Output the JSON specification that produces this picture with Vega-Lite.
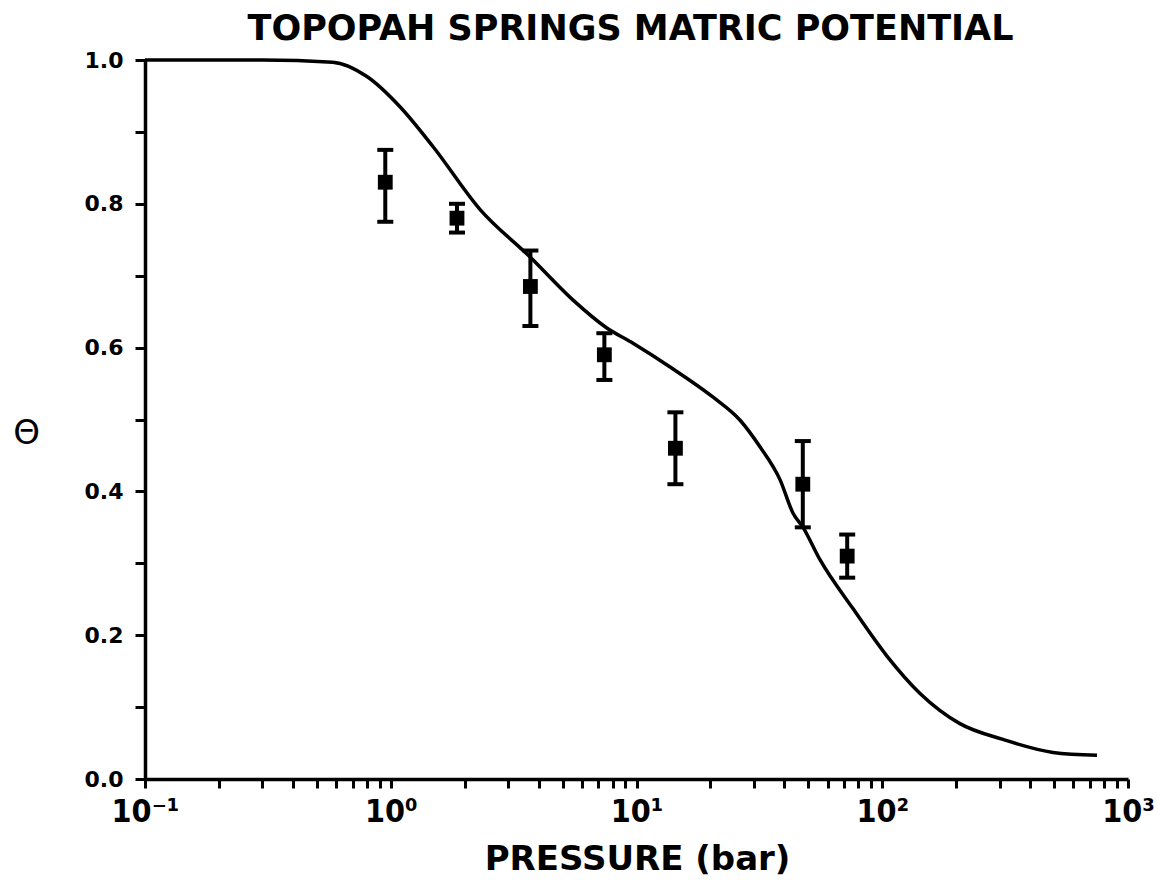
{
  "$schema": "https://vega.github.io/schema/vega-lite/v6.json",
  "width": 983,
  "height": 719,
  "autosize": "none",
  "padding": {"left": 145, "top": 60, "right": 29, "bottom": 103},
  "background": "white",
  "config": {"view": {"stroke": null}},
  "title": {"text": "TOPOPAH SPRINGS MATRIC POTENTIAL", "font": "DejaVu Sans", "fontWeight": "bold", "fontSize": 35, "color": "black", "anchor": "middle", "offset": 2, "dx": -6},
  "datasets": {
    "curve": [
      {"p": 0.1, "theta": 1.0},
      {"p": 0.3, "theta": 1.0},
      {"p": 0.58, "theta": 0.997},
      {"p": 0.8, "theta": 0.977},
      {"p": 1.09, "theta": 0.935},
      {"p": 1.49, "theta": 0.879},
      {"p": 2.31, "theta": 0.792},
      {"p": 3.69, "theta": 0.726},
      {"p": 5.52, "theta": 0.666},
      {"p": 7.52, "theta": 0.628},
      {"p": 9.68, "theta": 0.606},
      {"p": 13.7, "theta": 0.573},
      {"p": 20.5, "theta": 0.531},
      {"p": 26.4, "theta": 0.499},
      {"p": 31.8, "theta": 0.462},
      {"p": 38.4, "theta": 0.416},
      {"p": 43.3, "theta": 0.37},
      {"p": 47.6, "theta": 0.35},
      {"p": 55.8, "theta": 0.305},
      {"p": 76, "theta": 0.237},
      {"p": 104.5, "theta": 0.171},
      {"p": 142.5, "theta": 0.119},
      {"p": 207, "theta": 0.077},
      {"p": 310, "theta": 0.055},
      {"p": 495, "theta": 0.037},
      {"p": 748, "theta": 0.033}
    ],
    "obs": [
      {"p": 0.95, "theta": 0.83, "lo": 0.775, "hi": 0.875},
      {"p": 1.86, "theta": 0.78, "lo": 0.76, "hi": 0.80},
      {"p": 3.7, "theta": 0.685, "lo": 0.63, "hi": 0.735},
      {"p": 7.4, "theta": 0.59, "lo": 0.555, "hi": 0.62},
      {"p": 14.4, "theta": 0.46, "lo": 0.41, "hi": 0.51},
      {"p": 47.5, "theta": 0.41, "lo": 0.35, "hi": 0.47},
      {"p": 72, "theta": 0.31, "lo": 0.28, "hi": 0.34}
    ]
  },
  "layer": [
    {
      "data": {"name": "curve"},
      "mark": {"type": "line", "color": "black", "strokeWidth": 3.5, "interpolate": "monotone"},
      "encoding": {
        "x": {
          "field": "p", "type": "quantitative",
          "scale": {"type": "log", "domain": [0.1, 1000], "nice": false},
          "axis": {
            "title": "PRESSURE (bar)",
            "titleFont": "DejaVu Sans", "titleFontWeight": "bold", "titleFontSize": 34, "titleColor": "black",
            "titleX": 492, "titleY": 90, "titleBaseline": "alphabetic", "titleAnchor": null, "titleAlign": "center",
            "values": [0.1,0.2,0.3,0.4,0.5,0.6,0.7,0.8,0.9,1,2,3,4,5,6,7,8,9,10,20,30,40,50,60,70,80,90,100,200,300,400,500,600,700,800,900,1000],
            "labelExpr": "datum.value == 0.1 ? '10⁻¹' : datum.value == 1 ? '10⁰' : datum.value == 10 ? '10¹' : datum.value == 100 ? '10²' : datum.value == 1000 ? '10³' : ''",
            "labelFont": "DejaVu Sans Condensed", "labelFontWeight": "bold", "labelFontSize": 32, "labelColor": "black", "labelPadding": 8,
            "labelOverlap": false, "labelFlush": false,
            "domainColor": "black", "domainWidth": 3.5,
            "tickColor": "black", "tickWidth": 3, "tickSize": 9,
            "grid": false
          }
        },
        "y": {
          "field": "theta", "type": "quantitative",
          "scale": {"domain": [0, 1], "nice": false},
          "axis": {
            "title": "Θ", "titleAngle": 0, "titleFont": "DejaVu Sans", "titleFontWeight": "normal", "titleFontSize": 34, "titleColor": "black",
            "titleX": -119, "titleY": 373, "titleBaseline": "middle", "titleAlign": "center",
            "values": [0,0.1,0.2,0.3,0.4,0.5,0.6,0.7,0.8,0.9,1.0],
            "labelExpr": "round(datum.value*10) % 2 == 0 ? format(datum.value, '.1f') : ''",
            "labelFont": "DejaVu Sans", "labelFontWeight": "bold", "labelFontSize": 22, "labelColor": "black", "labelPadding": 12,
            "domainColor": "black", "domainWidth": 3.5,
            "tickColor": "black", "tickWidth": 3, "tickSize": 10,
            "grid": false
          }
        }
      }
    },
    {
      "data": {"name": "obs"},
      "mark": {"type": "rule", "color": "black", "strokeWidth": 4},
      "encoding": {
        "x": {"field": "p", "type": "quantitative"},
        "y": {"field": "lo", "type": "quantitative"},
        "y2": {"field": "hi"}
      }
    },
    {
      "data": {"name": "obs"},
      "mark": {"type": "tick", "color": "black", "opacity": 1, "orient": "horizontal", "size": 16, "thickness": 4},
      "encoding": {
        "x": {"field": "p", "type": "quantitative"},
        "y": {"field": "lo", "type": "quantitative"}
      }
    },
    {
      "data": {"name": "obs"},
      "mark": {"type": "tick", "color": "black", "opacity": 1, "orient": "horizontal", "size": 16, "thickness": 4},
      "encoding": {
        "x": {"field": "p", "type": "quantitative"},
        "y": {"field": "hi", "type": "quantitative"}
      }
    },
    {
      "data": {"name": "obs"},
      "mark": {"type": "point", "shape": "square", "filled": true, "color": "black", "opacity": 1, "size": 220},
      "encoding": {
        "x": {"field": "p", "type": "quantitative"},
        "y": {"field": "theta", "type": "quantitative"}
      }
    }
  ]
}
